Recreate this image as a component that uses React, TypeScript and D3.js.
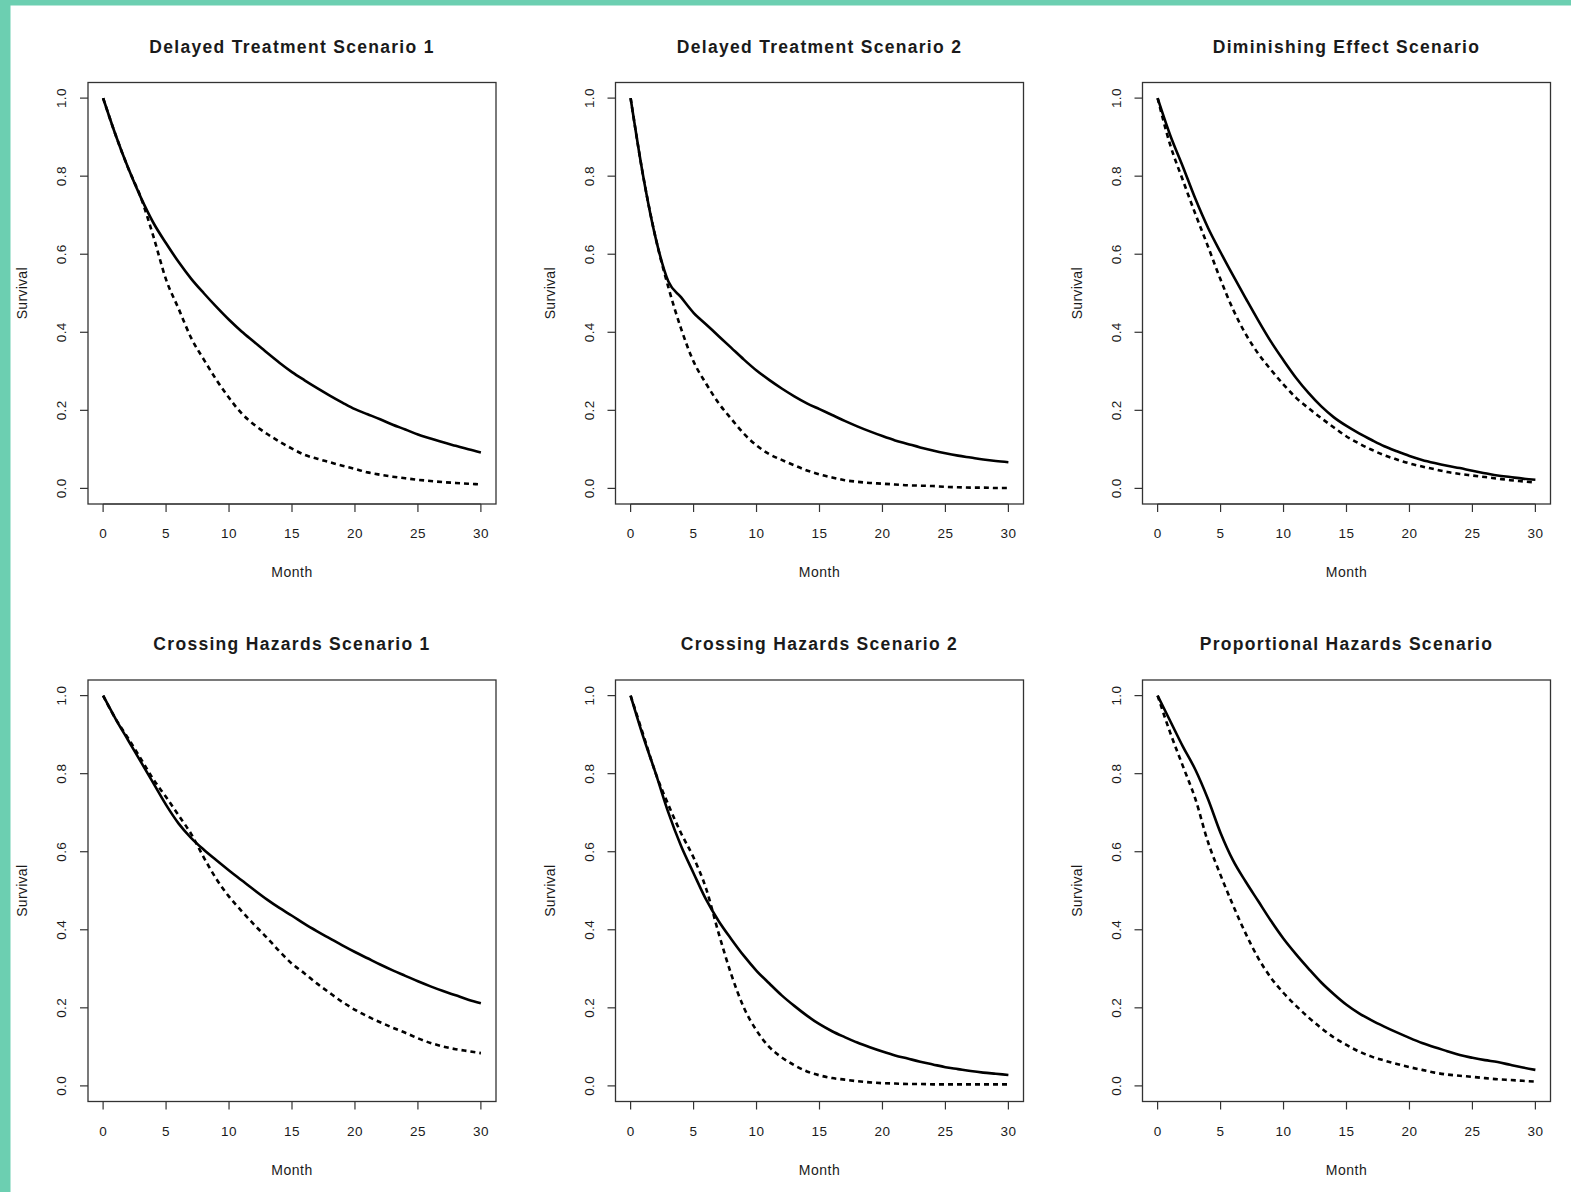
import React from "react";
import * as d3 from "d3";

const months = d3.range(0, 31);
const xTicks = [0, 5, 10, 15, 20, 25, 30];
const yTicks = [0, 0.2, 0.4, 0.6, 0.8, 1.0];

const titles = [
  "Delayed Treatment Scenario 1",
  "Delayed Treatment Scenario 2",
  "Diminishing Effect Scenario",
  "Crossing Hazards Scenario 1",
  "Crossing Hazards Scenario 2",
  "Proportional Hazards Scenario",
];

const solid1 = [1.0, 0.905, 0.82, 0.745, 0.68, 0.628, 0.58, 0.537, 0.5, 0.465, 0.432, 0.402, 0.375, 0.348, 0.322, 0.298, 0.277, 0.257, 0.238, 0.22, 0.203, 0.19, 0.177, 0.163, 0.151, 0.138, 0.128, 0.118, 0.109, 0.1, 0.092];
const dashed1 = [1.0, 0.905, 0.82, 0.745, 0.645, 0.535, 0.46, 0.385, 0.33, 0.278, 0.232, 0.192, 0.163, 0.14, 0.12, 0.102, 0.086, 0.076, 0.067, 0.058, 0.05, 0.041, 0.035, 0.03, 0.026, 0.022, 0.019, 0.016, 0.014, 0.012, 0.01];

const solid2 = [1.0, 0.8, 0.64, 0.53, 0.49, 0.45, 0.42, 0.39, 0.36, 0.33, 0.302, 0.278, 0.256, 0.236, 0.218, 0.203, 0.188, 0.173, 0.159, 0.146, 0.134, 0.123, 0.114, 0.105, 0.097, 0.09, 0.084, 0.079, 0.074, 0.07, 0.067];
const dashed2 = [1.0, 0.8, 0.64, 0.515, 0.41, 0.325, 0.268, 0.218, 0.178, 0.14, 0.11, 0.088, 0.073, 0.059, 0.046, 0.036, 0.028, 0.021, 0.017, 0.014, 0.012, 0.01, 0.008, 0.007, 0.006, 0.004, 0.003, 0.002, 0.002, 0.001, 0.001];

const solid3 = [1.0, 0.905, 0.825, 0.742, 0.668, 0.605, 0.545, 0.487, 0.43, 0.376, 0.328, 0.283, 0.244, 0.21, 0.182, 0.16, 0.141, 0.124, 0.108, 0.095, 0.083, 0.073, 0.065, 0.058, 0.052, 0.045, 0.039, 0.033, 0.029, 0.025, 0.022];
const dashed3 = [1.0, 0.88, 0.79, 0.703, 0.62, 0.535, 0.458, 0.395, 0.345, 0.304, 0.266, 0.232, 0.205, 0.18, 0.156, 0.133, 0.115, 0.099, 0.085, 0.074, 0.064, 0.056, 0.049, 0.042, 0.037, 0.033, 0.029, 0.025, 0.021, 0.018, 0.015];

const solid4 = [1.0, 0.94, 0.885, 0.83, 0.775, 0.72, 0.672, 0.635, 0.605, 0.578, 0.552, 0.527, 0.502, 0.478, 0.456, 0.436, 0.415, 0.396, 0.378, 0.36, 0.343, 0.327, 0.311, 0.296, 0.282, 0.268, 0.255, 0.243, 0.232, 0.221, 0.212];
const dashed4 = [1.0, 0.94, 0.89, 0.838, 0.785, 0.74, 0.693, 0.645, 0.585, 0.53, 0.485, 0.448, 0.413, 0.38, 0.345, 0.313, 0.288, 0.262, 0.238, 0.215, 0.195, 0.178, 0.163, 0.149, 0.136, 0.122, 0.11, 0.101, 0.094, 0.089, 0.084];

const solid5 = [1.0, 0.895, 0.8, 0.7, 0.615, 0.545, 0.477, 0.422, 0.376, 0.333, 0.295, 0.263, 0.232, 0.205, 0.18, 0.158, 0.14, 0.125, 0.111, 0.099, 0.088, 0.078, 0.07, 0.062, 0.055, 0.048, 0.043, 0.038, 0.034, 0.031, 0.028];
const dashed5 = [1.0, 0.9, 0.8, 0.72, 0.648, 0.585, 0.505, 0.39, 0.285, 0.2, 0.142, 0.1, 0.073, 0.053, 0.037, 0.027, 0.02, 0.016, 0.012, 0.009, 0.007, 0.006, 0.005, 0.005, 0.004, 0.004, 0.004, 0.004, 0.004, 0.004, 0.004];

const solid6 = [1.0, 0.935, 0.87, 0.81, 0.735, 0.648, 0.577, 0.523, 0.473, 0.423, 0.377, 0.337, 0.3, 0.265, 0.235, 0.208, 0.186, 0.168, 0.152, 0.137, 0.123, 0.11, 0.099, 0.089, 0.079, 0.072, 0.066, 0.061, 0.054, 0.047, 0.041];
const dashed6 = [1.0, 0.905, 0.82, 0.735, 0.625, 0.54, 0.462, 0.39, 0.327, 0.277, 0.238, 0.205, 0.175, 0.148, 0.124, 0.105, 0.088, 0.075, 0.065, 0.056, 0.048, 0.041, 0.034, 0.029, 0.026, 0.023, 0.02, 0.017, 0.015, 0.013, 0.011];

const solids = [solid1, solid2, solid3, solid4, solid5, solid6];
const dasheds = [dashed1, dashed2, dashed3, dashed4, dashed5, dashed6];

const W = 1571;
const H = 1192;
const boxLefts = [88, 615.5, 1142.5];
const boxTops = [82.5, 680];
const boxW = 408;
const boxH = 421.5;
const FONT = "'Liberation Sans', Arial, sans-serif";
const INK = "#1a1a1a";

function Panel({ idx }: { idx: number }) {
  const col = idx % 3;
  const row = Math.floor(idx / 3);
  const left = boxLefts[col];
  const top = boxTops[row];
  const x = d3.scaleLinear().domain([-1.2, 31.2]).range([left, left + boxW]);
  const y = d3.scaleLinear().domain([-0.04, 1.04]).range([top + boxH, top]);
  const line = d3
    .line<number>()
    .x((_, i) => x(months[i]))
    .y((d) => y(d))
    .curve(d3.curveMonotoneX);
  const bottom = top + boxH;
  const cx = left + boxW / 2;
  const cy = top + boxH / 2;
  return (
    <g>
      <text x={cx} y={top - 30} textAnchor="middle" fontFamily={FONT} fontWeight="bold" fontSize={17.5} letterSpacing={1.3} fill={INK}>
        {titles[idx]}
      </text>
      <rect x={left} y={top} width={boxW} height={boxH} fill="none" stroke="#333" strokeWidth={1.3} />
      <line x1={x(0)} x2={x(30)} y1={bottom} y2={bottom} stroke="#333" strokeWidth={1.2} />
      {xTicks.map((t) => (
        <g key={"x" + t}>
          <line x1={x(t)} x2={x(t)} y1={bottom} y2={bottom + 8} stroke="#333" strokeWidth={1.2} />
          <text x={x(t)} y={bottom + 34} textAnchor="middle" fontFamily={FONT} fontSize={13.5} letterSpacing={0.4} fill={INK}>
            {t}
          </text>
        </g>
      ))}
      {yTicks.map((t) => (
        <g key={"y" + t}>
          <line x1={left - 8} x2={left} y1={y(t)} y2={y(t)} stroke="#333" strokeWidth={1.2} />
          <text
            transform={`translate(${left - 22},${y(t)}) rotate(-90)`}
            textAnchor="middle"
            fontFamily={FONT}
            fontSize={13.5}
            letterSpacing={0.4}
            fill={INK}
          >
            {t.toFixed(1)}
          </text>
        </g>
      ))}
      <text x={cx} y={bottom + 73} textAnchor="middle" fontFamily={FONT} fontSize={14} letterSpacing={0.5} fill={INK}>
        Month
      </text>
      <text
        transform={`translate(${left - 61},${cy}) rotate(-90)`}
        textAnchor="middle"
        fontFamily={FONT}
        fontSize={14}
        letterSpacing={0.3}
        fill={INK}
      >
        Survival
      </text>
      <path d={line(dasheds[idx]) || ""} fill="none" stroke="#000" strokeWidth={2.6} strokeDasharray="5,4" />
      <path d={line(solids[idx]) || ""} fill="none" stroke="#000" strokeWidth={2.6} />
    </g>
  );
}

export default function App() {
  return (
    <div style={{ position: "absolute", left: 0, top: 0 }}>
      <svg width={W} height={H} style={{ display: "block" }}>
        <rect x={0} y={0} width={W} height={H} fill="#ffffff" />
        <rect x={0} y={0} width={W} height={5.5} fill="#6ccfb1" />
        <rect x={0} y={0} width={10.5} height={H} fill="#6ccfb1" />
        {titles.map((_, i) => (
          <Panel key={i} idx={i} />
        ))}
      </svg>
    </div>
  );
}
